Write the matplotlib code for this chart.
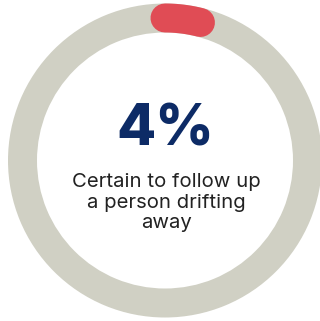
import numpy as np
import matplotlib
matplotlib.use("Agg")
import matplotlib.pyplot as plt
from matplotlib.patches import Wedge

value_pct = 4
value_label = "4%"
caption_lines = ["Certain to follow up", "a person drifting", "away"]

W, H = 320, 321
fig = plt.figure(figsize=(W / 100, H / 100), dpi=100)
ax = fig.add_axes([0, 0, 1, 1])
ax.set_xlim(0, W)
ax.set_ylim(H, 0)
ax.set_aspect("equal")
ax.axis("off")

cx, cy = 165, 160.5
r_out, width = 157, 29
grey = "#d0d0c4"
red = "#e04c55"
navy = "#0d2b66"

ring = Wedge((cx, cy), r_out, 0, 360, width=width, facecolor=grey, edgecolor="none")
ax.add_patch(ring)

r_mid = r_out - width / 2
ang = np.linspace(0, value_pct / 100 * 2 * np.pi, 60)
xs = cx + r_mid * np.sin(ang)
ys = cy - r_mid * np.cos(ang)
lw_pt = width * 72 / 100
ax.plot(xs, ys, color=red, lw=lw_pt, solid_capstyle="round")

ax.text(cx, 145, value_label, ha="center", va="baseline", fontsize=41,
        fontweight="heavy", color=navy, family="Inter")

baselines = [187, 208, 228]
for line, yb in zip(caption_lines, baselines):
    ax.text(cx + 1, yb, line, ha="center", va="baseline", fontsize=14.6,
            color="#222222", family="Inter")

fig.savefig("out.png", dpi=100)
